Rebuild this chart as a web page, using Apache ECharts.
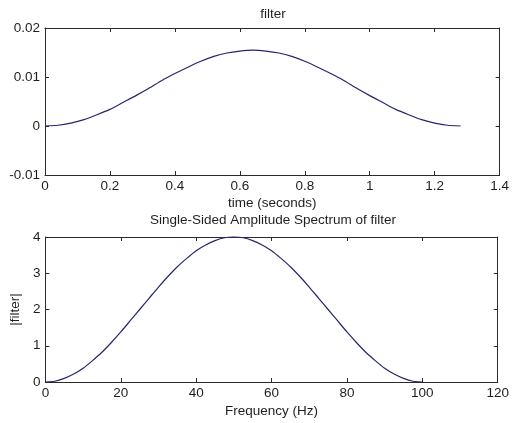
<!DOCTYPE html>
<html>
<head>
<meta charset="utf-8">
<script src="https://cdn.jsdelivr.net/npm/echarts@6/dist/echarts.min.js"></script>
<style>
  html, body { margin: 0; padding: 0; background: #fff; }
  #chart { width: 512px; height: 423px; }
</style>
</head>
<body>
<div id="chart"></div>
<script>
// Time-domain filter samples (seconds, amplitude)
var timeSec = [0, 0.04, 0.08, 0.12, 0.16, 0.2, 0.24, 0.28, 0.32, 0.36, 0.4, 0.44, 0.48, 0.52, 0.56, 0.6, 0.64,
  0.68, 0.72, 0.76, 0.8, 0.84, 0.88, 0.92, 0.96, 1.0, 1.04, 1.08, 1.12, 1.16, 1.2, 1.24, 1.28];
var filterVals = [0, 0.00015, 0.0006, 0.0013, 0.0023, 0.0034, 0.0048, 0.0062, 0.0077, 0.0093, 0.0107, 0.012,
  0.0132, 0.0142, 0.0149, 0.0153, 0.0155, 0.0153, 0.0149, 0.0142, 0.0132, 0.012, 0.0107, 0.0093, 0.0077,
  0.0062, 0.0048, 0.0034, 0.0023, 0.0013, 0.0006, 0.00015, 0];

// Single-sided amplitude spectrum (Hz, |filter|)
var freqHz = [0, 2.5, 5, 7.5, 10, 12.5, 15, 17.5, 20, 22.5, 25, 27.5, 30, 32.5, 35, 37.5, 40, 42.5, 45, 47.5, 50,
  52.5, 55, 57.5, 60, 62.5, 65, 67.5, 70, 72.5, 75, 77.5, 80, 82.5, 85, 87.5, 90, 92.5, 95, 97.5, 100];
var spectrumVals = [0, 0.02, 0.1, 0.22, 0.38, 0.59, 0.82, 1.09, 1.38, 1.69, 2.0, 2.31, 2.62, 2.91, 3.18, 3.41,
  3.62, 3.78, 3.9, 3.98, 4.0, 3.98, 3.9, 3.78, 3.62, 3.41, 3.18, 2.91, 2.62, 2.31, 2.0, 1.69, 1.38, 1.09,
  0.82, 0.59, 0.38, 0.22, 0.1, 0.02, 0];

// Axis tick values
var timeTicks = [0, 0.2, 0.4, 0.6, 0.8, 1.0, 1.2, 1.4];
var filterTicks = [-0.01, 0, 0.01, 0.02];
var freqTicks = [0, 20, 40, 60, 80, 100, 120];
var magTicks = [0, 1, 2, 3, 4];

var FONT = 'Liberation Sans, Arial, sans-serif';
var TXT = '#1e1e1e';
var AX = '#2b2b2b';
var LINE = '#26266f';
var FS = 13.5;

function zip(a, b) { return a.map(function (v, i) { return [v, b[i]]; }); }
function axisRange(t) { return { min: t[0], max: t[t.length - 1], interval: +(t[1] - t[0]).toFixed(6) }; }

function xAx(gridIndex, ticks, name, gap, decimals, visible) {
  var r = axisRange(ticks);
  return {
    type: 'value', gridIndex: gridIndex, position: visible ? 'bottom' : 'top',
    min: r.min, max: r.max, interval: r.interval,
    name: visible ? name : '', nameLocation: 'middle', nameGap: gap,
    nameTextStyle: { color: TXT, fontFamily: FONT, fontSize: FS },
    axisLine: { show: true, onZero: false, lineStyle: { color: AX, width: 1 } },
    axisTick: { show: true, inside: true, length: 4, lineStyle: { color: AX } },
    axisLabel: {
      show: visible, margin: 4, color: TXT, fontFamily: FONT, fontSize: FS,
      formatter: function (v) { return String(+v.toFixed(decimals)); }
    },
    splitLine: { show: false }
  };
}

function yAx(gridIndex, ticks, name, decimals, visible) {
  var r = axisRange(ticks);
  return {
    type: 'value', gridIndex: gridIndex, position: visible ? 'left' : 'right',
    min: r.min, max: r.max, interval: r.interval,
    name: visible ? name : '', nameLocation: 'middle', nameGap: 22,
    nameTextStyle: { color: TXT, fontFamily: FONT, fontSize: FS },
    axisLine: { show: true, onZero: false, lineStyle: { color: AX, width: 1 } },
    axisTick: { show: true, inside: true, length: 4, lineStyle: { color: AX } },
    axisLabel: {
      show: visible, margin: 5, color: TXT, fontFamily: FONT, fontSize: FS,
      formatter: function (v) { return String(+v.toFixed(decimals)); }
    },
    splitLine: { show: false }
  };
}

var chart = echarts.init(document.getElementById('chart'), null, { renderer: 'canvas' });
chart.setOption({
  animation: false,
  backgroundColor: '#ffffff',
  title: [
    { text: 'filter', left: 273, top: 7, textAlign: 'center', padding: 0,
      textStyle: { color: TXT, fontFamily: FONT, fontSize: FS, fontWeight: 'normal' } },
    { text: 'Single-Sided Amplitude Spectrum of filter', left: 273, top: 213, textAlign: 'center', padding: 0,
      textStyle: { color: TXT, fontFamily: FONT, fontSize: FS, fontWeight: 'normal' } }
  ],
  grid: [
    { left: 45, right: 11, top: 28, height: 147 },
    { left: 45, right: 11, top: 237, height: 145 }
  ],
  xAxis: [
    xAx(0, timeTicks, 'time (seconds)', 21, 1, true),
    xAx(0, timeTicks, '', 0, 1, false),
    xAx(1, freqTicks, 'Frequency (Hz)', 22, 0, true),
    xAx(1, freqTicks, '', 0, 0, false)
  ],
  yAxis: [
    yAx(0, filterTicks, '', 2, true),
    yAx(0, filterTicks, '', 2, false),
    yAx(1, magTicks, '|filter|', 0, true),
    yAx(1, magTicks, '', 0, false)
  ],
  series: [
    { type: 'line', xAxisIndex: 0, yAxisIndex: 0, data: zip(timeSec, filterVals),
      showSymbol: false, smooth: 0.2, clip: false,
      lineStyle: { color: LINE, width: 1.2 } },
    { type: 'line', xAxisIndex: 2, yAxisIndex: 2, data: zip(freqHz, spectrumVals),
      showSymbol: false, smooth: 0.2, clip: false,
      lineStyle: { color: LINE, width: 1.2 } }
  ]
});
</script>
</body>
</html>
